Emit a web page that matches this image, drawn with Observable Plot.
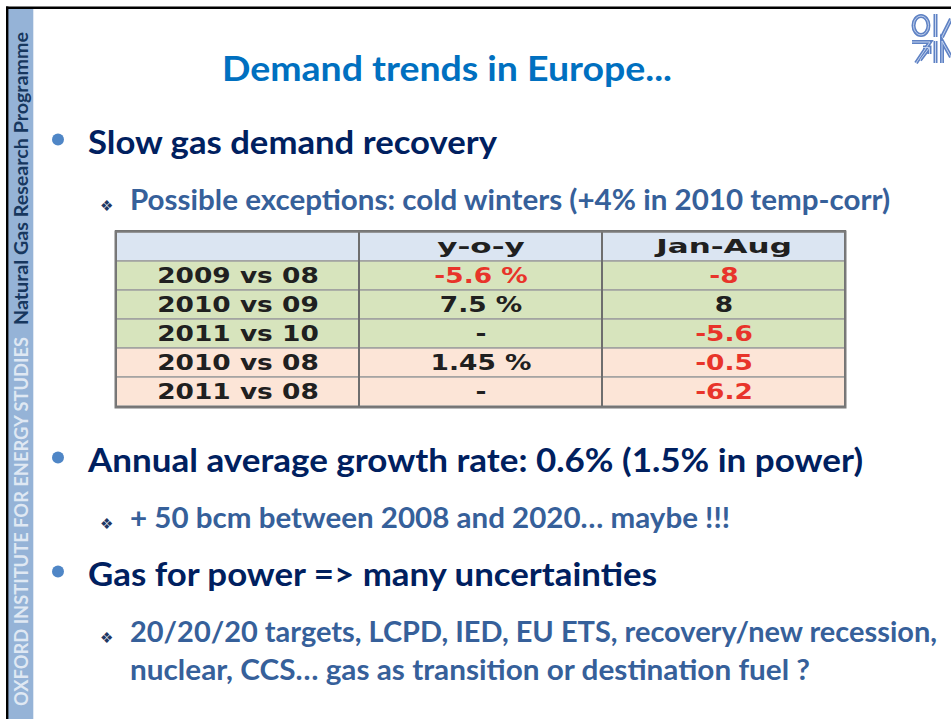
<!DOCTYPE html>
<html><head><meta charset="utf-8">
<script src="https://cdn.jsdelivr.net/npm/d3@7"></script>
<script src="https://cdn.jsdelivr.net/npm/@observablehq/plot@0.6"></script>
<style>
html,body{margin:0;padding:0;background:#fff;}
#slide{position:relative;width:951px;height:719px;overflow:hidden;background:#fff;}
#deco{position:absolute;left:0;top:0;}
#table{position:absolute;left:113px;top:229px;width:734px;}
</style></head><body>
<div id="slide"><svg id="deco" width="951" height="719"></svg><div id="table"></div></div>
<script>
// ---- data ----
const slideTitle = "Demand trends in Europe...";
const stripOrg = "OXFORD INSTITUTE FOR ENERGY STUDIES";
const stripProg = "Natural Gas Research Programme";
const bulletTexts = [
  "Slow gas demand recovery",
  "Possible exceptions: cold winters (+4% in 2010 temp-corr)",
  "Annual average growth rate: 0.6% (1.5% in power)",
  "+ 50 bcm between 2008 and 2020\u2026 maybe !!!",
  "Gas for power => many uncertainties",
  "20/20/20 targets, LCPD, IED, EU ETS, recovery/new recession,",
  "nuclear, CCS\u2026 gas as transition or destination fuel ?"
];
const bulletLevels = [1, 2, 1, 2, 1, 2, 0];

const columns = ["", "y-o-y", "Jan-Aug"];
const periods = ["2009 vs 08", "2010 vs 09", "2011 vs 10", "2010 vs 08", "2011 vs 08"];
const yoy = ["-5.6 %", "7.5 %", "-", "1.45 %", "-"];
const janAug = ["-8", "8", "-5.6", "-0.5", "-6.2"];
const baseGroup = ["previous", "previous", "previous", "2008", "2008"];

// ---- layout (not data) ----
const lineBaselines = [154, 210, 472, 528, 586, 642, 680];
const lineEnds = [497, 890, 863, 730, 657, 937, 810];

const svg = d3.select("#deco");
function fit(sel, len) { sel.attr("textLength", len).attr("lengthAdjust", "spacingAndGlyphs"); }

// left strip
svg.append("rect").attr("x", 8).attr("y", 8).attr("width", 25.3).attr("height", 711).attr("fill", "#95b3d7");
svg.append("line").attr("x1", 6).attr("x2", 951).attr("y1", 7.8).attr("y2", 7.8).attr("stroke", "#000").attr("stroke-width", 2.4);
svg.append("line").attr("x1", 7.2).attr("x2", 7.2).attr("y1", 6.6).attr("y2", 719).attr("stroke", "#000").attr("stroke-width", 2.4);

svg.append("text").attr("transform", "translate(28.3,706) rotate(-90)")
  .attr("font-family", "Lato").attr("font-weight", 700).attr("font-size", 19)
  .attr("fill", "#dfe8f3").text(stripOrg).call(fit, 369);
svg.append("text").attr("transform", "translate(28.3,325) rotate(-90)")
  .attr("font-family", "Lato").attr("font-weight", 700).attr("font-size", 19)
  .attr("fill", "#17375e").text(stripProg).call(fit, 293);

// logo (top right)
function logoShapes(g) {
  g.append("ellipse").attr("cx", 921).attr("cy", 25.5).attr("rx", 7.5).attr("ry", 9.5);
  g.append("line").attr("x1", 935.5).attr("x2", 935.5).attr("y1", 14).attr("y2", 37);
  g.append("path").attr("d", "M942,37 L951,19");
  g.append("path").attr("d", "M912,42 H930 L916,63");
  g.append("path").attr("d", "M920,60 L929,48 M923,47.5 H929.5 V54");
  g.append("line").attr("x1", 935.5).attr("x2", 935.5).attr("y1", 41).attr("y2", 63);
  g.append("path").attr("d", "M942,63 V41 L951,57");
}
logoShapes(svg.append("g").attr("fill", "none").attr("stroke", "#5f82c4").attr("stroke-width", 4));
logoShapes(svg.append("g").attr("fill", "none").attr("stroke", "#c4d3ee").attr("stroke-width", 1));

// title
svg.append("text").attr("x", 222).attr("y", 81)
  .attr("font-family", "Lato").attr("font-weight", 700).attr("font-size", 35)
  .attr("fill", "#0070c0").text(slideTitle).call(fit, 450);

// bullets
bulletTexts.forEach((t, i) => {
  const lvl = bulletLevels[i], y = lineBaselines[i];
  const x0 = lvl === 1 ? 88 : 130;
  if (lvl === 1) {
    svg.append("circle").attr("cx", 58).attr("cy", y - 14.5).attr("r", 6).attr("fill", "#4f86c6");
  } else if (lvl === 2) {
    svg.append("text").attr("x", 106.7).attr("y", y + 1).attr("text-anchor", "middle")
      .attr("font-family", "DejaVu Sans").attr("font-size", 15).attr("fill", "#1f3864").text("\u2756");
  }
  svg.append("text").attr("x", x0).attr("y", y)
    .attr("font-family", "Lato").attr("font-weight", 700)
    .attr("font-size", lvl === 1 ? 33 : 28)
    .attr("fill", lvl === 1 ? "#00205f" : "#36609a")
    .text(t).call(fit, lineEnds[i] - x0);
});

// ---- table with Plot ----
const colKeys = ["period", "yoy", "janAug"];
const rowKeys = ["header", ...periods];
const groupFill = {header: "#dbe5f2", previous: "#d7e4bd", "2008": "#fce5d7"};
const cells = [];
colKeys.forEach((c, i) => cells.push({row: "header", col: c, label: columns[i], group: "header"}));
periods.forEach((p, j) => {
  cells.push({row: p, col: "period", label: p, group: baseGroup[j]});
  cells.push({row: p, col: "yoy", label: yoy[j], group: baseGroup[j]});
  cells.push({row: p, col: "janAug", label: janAug[j], group: baseGroup[j]});
});

const table = Plot.plot({
  width: 734, height: 180,
  marginTop: 2, marginRight: 2, marginBottom: 2, marginLeft: 2,
  x: {type: "band", domain: colKeys, padding: 0, axis: null},
  y: {type: "band", domain: rowKeys, padding: 0, axis: null},
  style: {background: "transparent", overflow: "visible"},
  marks: [
    Plot.cell(cells, {x: "col", y: "row", inset: 0, fill: d => groupFill[d.group], stroke: "#a0a0a0", strokeWidth: 1.5}),
    Plot.cell(colKeys, {x: d => d, inset: 0, fill: "none", stroke: "#6e6e6e", strokeWidth: 2}),
    Plot.text(cells.filter(d => d.label !== ""), {
      x: "col", y: "row", text: "label",
      fill: d => /^-\d/.test(d.label) ? "#e8342a" : "#202020",
      fontFamily: "DejaVu Sans", fontWeight: "bold",
      fontSize: d => d.row === "header" ? 20 : 22
    }),
    Plot.frame({stroke: "#7a7a7a", strokeWidth: 2})
  ]
});
document.getElementById("table").appendChild(table);
table.querySelectorAll("text").forEach(t => {
  const isHeader = columns.includes(t.textContent) && t.textContent !== "";
  const w = t.getComputedTextLength();
  t.setAttribute("textLength", w * (isHeader ? 1.55 : 1.2));
  t.setAttribute("lengthAdjust", "spacingAndGlyphs");
});
</script></body></html>
